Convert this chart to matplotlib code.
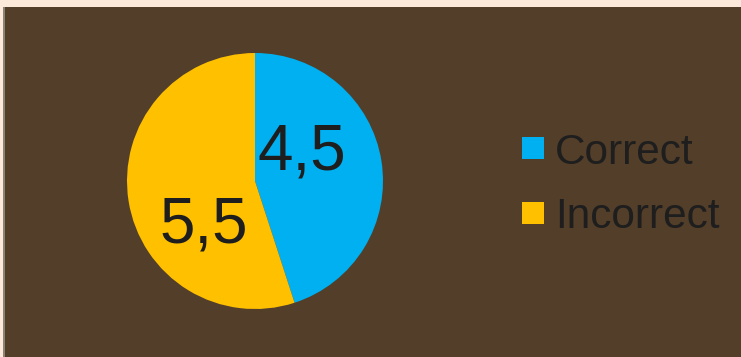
import matplotlib
matplotlib.use("Agg")
import matplotlib.pyplot as plt
from matplotlib.patches import Rectangle

# Data
categories = ["Correct", "Incorrect"]
values = [4.5, 5.5]
value_labels = ["4,5", "5,5"]
colors = ["#00B0F0", "#FFC000"]

W, H = 741, 357
fig = plt.figure(figsize=(W / 100, H / 100), dpi=100, facecolor="#FDE9D9")

# Panel background with thin grey left border
fig.patches.append(Rectangle((3 / W, 0), 2 / W, (H - 7) / H, transform=fig.transFigure,
                             facecolor="#8C8276", edgecolor="none", zorder=-2))
fig.patches.append(Rectangle((5 / W, 0), 1 - 5 / W, (H - 7) / H, transform=fig.transFigure,
                             facecolor="#523E29", edgecolor="none", zorder=-2))

# Pie axes: centre (255, 181) px, radius 128 px
cx, cy, r = 255, 181, 128
ax = fig.add_axes([(cx - r) / W, (H - cy - r) / H, 2 * r / W, 2 * r / H])
ax.set_facecolor("none")
ax.pie(values, colors=colors, startangle=90, counterclock=False,
       radius=1.0, wedgeprops=dict(linewidth=0))
ax.set_xlim(-1, 1)
ax.set_ylim(-1, 1)
ax.axis("off")

font = ["Liberation Sans", "DejaVu Sans"]
label_pos = [(0.369, 0.224), (-0.398, -0.347)]
for txt, (x, y) in zip(value_labels, label_pos):
    ax.text(x, y, txt, ha="center", va="center", fontsize=46,
            color="#1E1E1E", family=font)

# Legend
sq = 22
rows_y = [148, 213]
for cat, col, ry in zip(categories, colors, rows_y):
    fig.patches.append(Rectangle((522 / W, (H - ry - sq / 2) / H), sq / W, sq / H,
                                 transform=fig.transFigure, facecolor=col,
                                 edgecolor="none", zorder=2))
    fig.text(555 / W, (H - ry) / H, cat, ha="left", va="center_baseline",
             fontsize=30.5, color="#1E1E1E", family=font)

fig.savefig("out.png", dpi=100, facecolor=fig.get_facecolor())
